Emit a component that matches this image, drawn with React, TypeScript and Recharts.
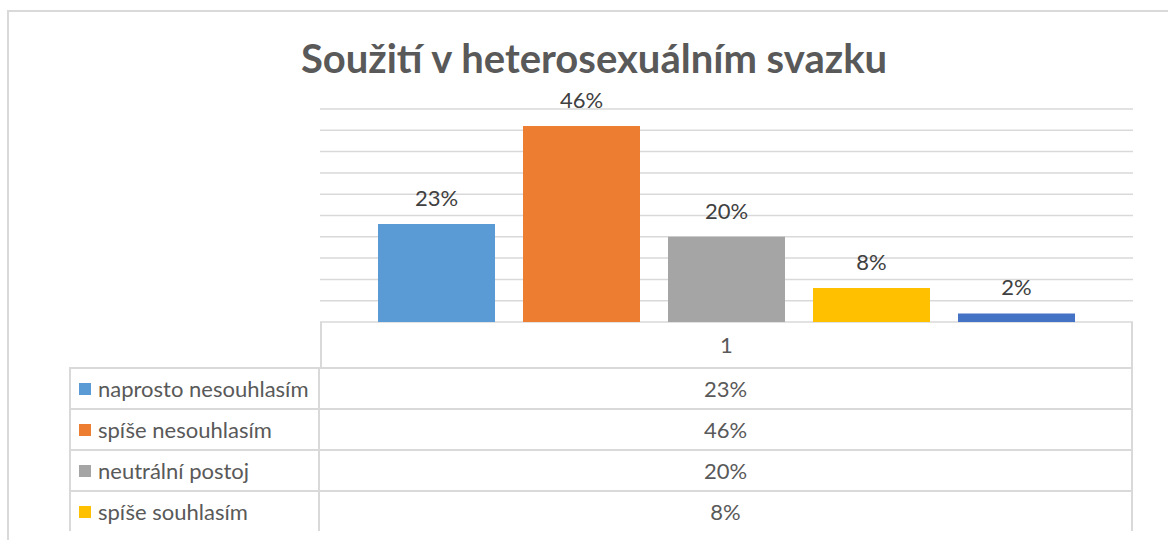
import React from 'react';
import { BarChart, Bar, XAxis, YAxis, CartesianGrid, LabelList } from 'recharts';

const TITLE = 'Soužití v heterosexuálním svazku';
const CATEGORIES = ['1'];
const SERIES_NAMES = ['naprosto nesouhlasím', 'spíše nesouhlasím', 'neutrální postoj', 'spíše souhlasím', 'naprosto souhlasím'];
const SERIES_VALUES = [23, 46, 20, 8, 2];
const SERIES_COLORS = ['#5B9BD5', '#ED7D31', '#A5A5A5', '#FFC000', '#4472C4'];
const Y_TICKS = [0, 5, 10, 15, 20, 25, 30, 35, 40, 45, 50];

const FONT = 'Lato, "Open Sans", sans-serif';
const GRID = '#D9D9D9';
const TEXT = '#595959';

const data = CATEGORIES.map((c) => {
  const row: Record<string, any> = { name: c };
  SERIES_VALUES.forEach((v, i) => { row[`s${i}`] = v; });
  return row;
});

const pct = (v: any) => `${v}%`;

export default function App() {
  const plotLeft = 320;
  const plotRight = 1133;
  const headerTop = 322;
  const headerH = 45;
  const rowH = 41;
  const tableLeft = 69;
  const tableBottom = 531;
  // the picture is cut off below the 4th row, only whole rows are drawn
  const visibleRows = Math.floor((tableBottom - headerTop - headerH) / rowH);

  return (
    <div style={{ position: 'fixed', left: 0, top: 0, width: 1168, height: 540, background: '#fff', overflow: 'hidden', fontFamily: FONT }}>
      {/* chart frame */}
      <div style={{ position: 'absolute', left: 7, top: 10, right: -10, bottom: -10, borderTop: `2px solid ${GRID}`, borderLeft: `2px solid ${GRID}` }} />

      <div style={{ position: 'absolute', left: 0, top: 34, width: 1188, textAlign: 'center', fontSize: 40, fontWeight: 700, color: TEXT }}>
        {TITLE}
      </div>

      <div style={{ position: 'absolute', left: 0, top: 0 }}>
        <BarChart width={1168} height={540} data={data} margin={{ top: 109, left: plotLeft, right: 1168 - plotRight, bottom: 540 - headerTop }} barCategoryGap={58} barGap={28}>
          <CartesianGrid vertical={false} stroke={GRID} strokeWidth={1.5} />
          <XAxis dataKey="name" hide />
          <YAxis domain={[0, 50]} ticks={Y_TICKS} interval={0} width={0} tick={{ fill: 'none' }} axisLine={false} tickLine={false} />
          {SERIES_NAMES.map((n, i) => (
            <Bar key={n} dataKey={`s${i}`} name={n} fill={SERIES_COLORS[i]} isAnimationActive={false}>
              <LabelList dataKey={`s${i}`} position="top" offset={18} formatter={pct} style={{ fill: '#404040', fontSize: 22, fontFamily: FONT }} />
            </Bar>
          ))}
        </BarChart>
      </div>

      {/* data table */}
      <div style={{ position: 'absolute', left: plotLeft, top: headerTop, width: plotRight - plotLeft, height: headerH, borderLeft: `2px solid ${GRID}`, borderRight: `2px solid ${GRID}`, boxSizing: 'border-box', display: 'flex', alignItems: 'center', justifyContent: 'center', fontSize: 22, color: TEXT }}>
        {CATEGORIES[0]}
      </div>
      {SERIES_NAMES.slice(0, visibleRows).map((n, i) => (
        <div key={n} style={{ position: 'absolute', left: tableLeft, top: headerTop + headerH + i * rowH, width: plotRight - tableLeft, height: i === visibleRows - 1 ? tableBottom - (headerTop + headerH + i * rowH) : rowH, borderTop: `2px solid ${GRID}`, borderLeft: `2px solid ${GRID}`, borderRight: `2px solid ${GRID}`, boxSizing: 'border-box', display: 'flex', fontSize: 22, color: TEXT }}>
          <div style={{ width: plotLeft - tableLeft - 2, display: 'flex', alignItems: 'center', borderRight: `2px solid ${GRID}`, boxSizing: 'border-box' }}>
            <span style={{ width: 12, height: 12, background: SERIES_COLORS[i], marginLeft: 8, marginRight: 7, flexShrink: 0 }} />
            <span style={{ whiteSpace: 'nowrap' }}>{n}</span>
          </div>
          <div style={{ flex: 1, display: 'flex', alignItems: 'center', justifyContent: 'center' }}>{pct(SERIES_VALUES[i])}</div>
        </div>
      ))}
    </div>
  );
}
